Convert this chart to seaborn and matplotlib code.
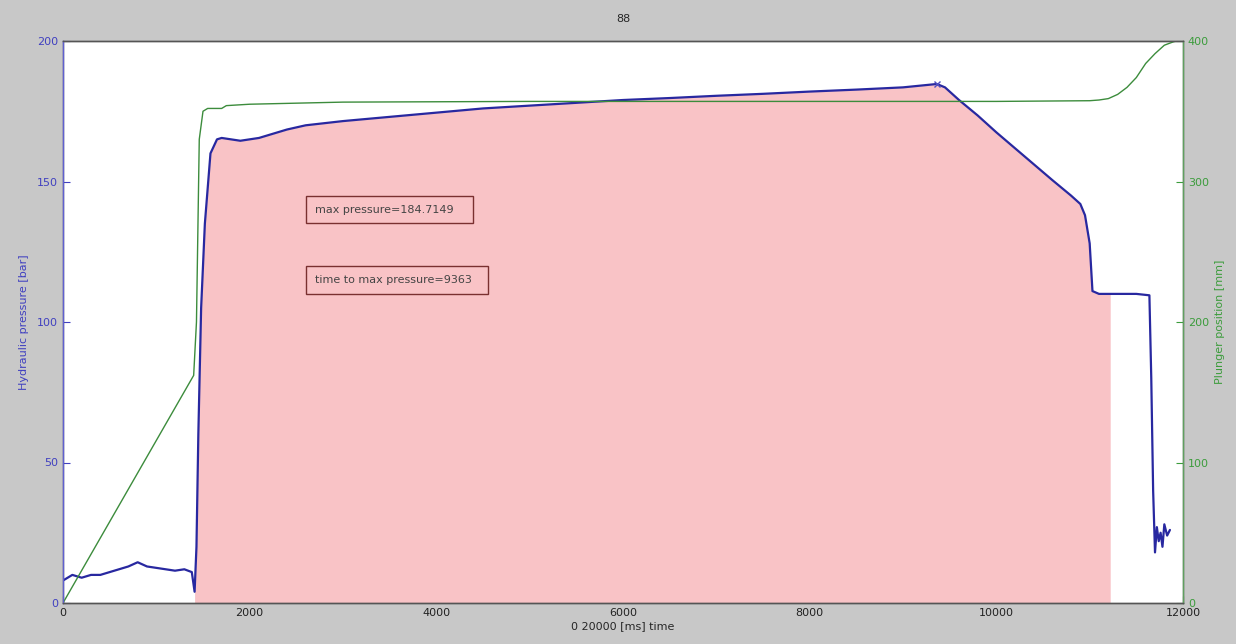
import numpy as np
import pandas as pd
import matplotlib
matplotlib.use("Agg")
import matplotlib.pyplot as plt
import seaborn as sns

# hydraulic pressure [bar] vs time [ms]
t_press = [0, 50, 100, 200, 300, 400, 500, 600, 700, 800, 900, 1000, 1100, 1200,
           1300, 1380, 1410, 1430, 1450, 1480, 1520, 1580, 1650, 1700, 1800, 1900,
           2000, 2100, 2200, 2400, 2600, 3000, 3500, 4000, 4500, 5000, 5500, 6000,
           6500, 7000, 7500, 8000, 8500, 9000, 9363, 9450, 9600, 9800, 10000, 10300,
           10600, 10800, 10900, 10950, 11000, 11030, 11100, 11220, 11300, 11500,
           11640, 11660, 11680, 11700, 11720, 11740, 11760, 11780, 11800, 11830, 11860]
pressure = [8, 9, 10, 9, 10, 10, 11, 12, 13, 14.5, 13, 12.5, 12, 11.5,
            12, 11, 4, 20, 60, 105, 135, 160, 165, 165.5, 165, 164.5,
            165, 165.5, 166.5, 168.5, 170, 171.5, 173, 174.5, 176, 177, 178, 179,
            179.7, 180.5, 181.2, 182, 182.7, 183.5, 184.7, 183.5, 179, 173.5, 167.5, 159,
            150.5, 145, 142, 138, 128, 111, 110, 110, 110, 110,
            109.5, 80, 40, 18, 27, 22, 25, 20, 28, 24, 26]

# plunger position [mm]
t_plunger = [0, 1400, 1430, 1460, 1500, 1550, 1700, 1750, 2000, 3000, 5000, 8000,
             10000, 11000, 11100, 11200, 11300, 11400, 11500, 11600, 11700, 11800,
             11900, 12000]
plunger = [0, 162, 200, 330, 350, 352, 352, 354, 355, 356.5, 357, 357,
           357, 357.5, 358, 359, 362, 367, 374, 384, 391, 397, 399.5, 401]

fill_start, fill_end = 1410, 11220
max_p = 184.7149
t_max = 9363

df_p = pd.DataFrame({"t": t_press, "p": pressure})
df_g = pd.DataFrame({"t": t_plunger, "g": plunger})

sns.set_style("ticks")
plt.rcParams["font.family"] = ["DejaVu Sans"]

bg = "#c8c8c8"
blue = "#2828a0"
green = "#3c8c3c"

fig = plt.figure(figsize=(12.36, 6.44), dpi=100, facecolor=bg)
ax = fig.add_axes([63 / 1236, 1 - 603 / 644, 1120 / 1236, 562 / 644])
ax.set_facecolor("white")

mask = (df_p["t"] >= fill_start) & (df_p["t"] <= fill_end)
ax.fill_between(df_p["t"][mask], 0, df_p["p"][mask], color="#f9c3c6", lw=0, zorder=1)
sns.lineplot(data=df_p, x="t", y="p", ax=ax, color=blue, lw=1.6, zorder=3, estimator=None)
ax.plot([t_max], [max_p], marker="x", color="#5050c0", ms=5, zorder=4)

ax.set_xlim(0, 12000)
ax.set_ylim(0, 200)
ax.set_xticks(range(0, 12001, 2000))
ax.set_yticks(range(0, 201, 50))
ax.tick_params(direction="in", length=5, labelsize=8)
ax.tick_params(axis="y", colors="#4040c0")
ax.tick_params(axis="x", colors="#222222", labelcolor="#222222")
ax.set_xlabel("0 20000 [ms] time", fontsize=8, labelpad=2)
ax.set_ylabel("Hydraulic pressure [bar]", fontsize=8, color="#4040c0", labelpad=6)
ax.set_title("88", fontsize=8, pad=14)

ax2 = ax.twinx()
sns.lineplot(data=df_g, x="t", y="g", ax=ax2, color=green, lw=1.0, zorder=2, estimator=None)
ax2.set_ylim(0, 400)
ax2.set_yticks(range(0, 401, 100))
ax2.tick_params(direction="in", length=5, labelsize=8, colors="#3c9c3c")
ax2.set_ylabel("Plunger position [mm]", fontsize=8, color="#3c9c3c", labelpad=4)
ax2.set_xlabel("")

for a in (ax, ax2):
    for s in a.spines.values():
        s.set_color("#555555")
        s.set_linewidth(1.0)
ax2.spines["left"].set_color("#6060d0")
ax2.spines["right"].set_color("#60a060")

box = dict(boxstyle="square,pad=0.8", fc="none", ec="#7a3030", lw=1.0)
ax.text(2700, 140, f"max pressure={max_p:.4f}   ", fontsize=8, color="#444444",
        va="center", bbox=box, zorder=5)
ax.text(2700, 115, f"time to max pressure={t_max}  ", fontsize=8, color="#444444",
        va="center", bbox=box, zorder=5)

fig.savefig("out.png", dpi=100, facecolor=bg)
